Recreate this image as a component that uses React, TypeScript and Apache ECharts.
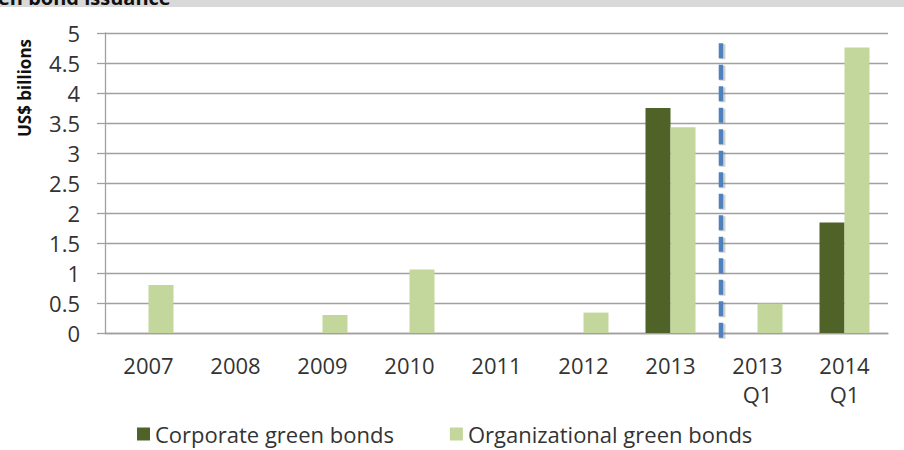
import React, { useEffect, useRef } from "react";
import * as echarts from "echarts";

const categories = ["2007", "2008", "2009", "2010", "2011", "2012", "2013", "2013\nQ1", "2014\nQ1"];
const corporate = [0, 0, 0, 0, 0, 0, 3.75, 0, 1.84];
const organizational = [0.8, 0, 0.3, 1.06, 0, 0.34, 3.43, 0.49, 4.76];
const yTicks = { min: 0, max: 5, interval: 0.5 };
const dividerX = 7.08;
const dividerY = [-0.08, 4.92];
const titleText = "en bond issuance";
const yTitle = "US$ billions";
const seriesNames = ["Corporate green bonds", "Organizational green bonds"];

const FONT = "'Open Sans', 'Noto Sans', sans-serif";

export default function App() {
  const ref = useRef<HTMLDivElement>(null);
  useEffect(() => {
    if (!ref.current) return;
    const chart = echarts.init(ref.current, null, { renderer: "svg" });
    const staticGraphics: any[] = [
      { type: "rect", id: "band", left: 0, top: 0, shape: { x: 0, y: 0, width: 904, height: 7 }, style: { fill: "#d9d9d9" }, z: 1 },
      {
        type: "text",
        id: "title",
        x: -2,
        y: -3,
        z: 2,
        style: {
          text: titleText,
          font: `bold 20px ${FONT}`,
          fill: "#111",
          textAlign: "left",
          textVerticalAlign: "middle",
        },
      },
      {
        type: "text",
        id: "ytitle",
        x: 24,
        y: 88,
        rotation: Math.PI / 2,
        style: {
          text: yTitle,
          font: `bold 17px ${FONT}`,
          fill: "#111",
          textAlign: "center",
          textVerticalAlign: "middle",
        },
      },
    ];
    chart.setOption({
      animation: false,
      backgroundColor: "#ffffff",
      textStyle: { fontFamily: FONT },
      grid: { left: 105, right: 16, top: 33, bottom: 117, containLabel: false },
      legend: {
        left: 132,
        top: 418,
        itemWidth: 13,
        itemHeight: 13,
        itemGap: 56,
        icon: "rect",
        data: seriesNames,
        textStyle: { fontFamily: FONT, fontSize: 22, color: "#333" },
      },
      xAxis: [
        {
          type: "category",
          data: categories,
          axisLine: { lineStyle: { color: "#a0a0a0", width: 1.3 } },
          axisTick: { alignWithLabel: true, length: 6, lineStyle: { color: "#a0a0a0", width: 1.3 } },
          axisLabel: { fontFamily: FONT, fontSize: 22, color: "#333", margin: 17, lineHeight: 29 },
        },
        { type: "value", min: 0, max: 9, show: false },
      ],
      yAxis: {
        type: "value",
        min: yTicks.min,
        max: yTicks.max,
        interval: yTicks.interval,
        axisLine: { show: true, lineStyle: { color: "#a0a0a0", width: 1.3 } },
        axisTick: { show: true, length: 8, lineStyle: { color: "#a0a0a0", width: 1.3 } },
        splitLine: { lineStyle: { color: "#a0a0a0", width: 1.3 } },
        axisLabel: { fontFamily: FONT, fontSize: 22, color: "#333", margin: 25 },
      },
      series: [
        {
          name: seriesNames[0],
          type: "bar",
          data: corporate,
          barWidth: 25,
          barGap: "0%",
          itemStyle: { color: "#4F6228" },
        },
        {
          name: seriesNames[1],
          type: "bar",
          data: organizational,
          barWidth: 25,
          barGap: "0%",
          itemStyle: { color: "#C3D69B" },
        },
      ],
      graphic: staticGraphics,
    });
    let px = Number(chart.convertToPixel({ xAxisIndex: 1 } as any, dividerX));
    if (!isFinite(px)) {
      px = Number(chart.convertToPixel({ xAxisIndex: 0 } as any, dividerX - 0.5));
    }
    const py0 = Number(chart.convertToPixel({ yAxisIndex: 0 } as any, dividerY[0]));
    const py1 = Number(chart.convertToPixel({ yAxisIndex: 0 } as any, dividerY[1]));
    if (isFinite(px) && isFinite(py0) && isFinite(py1)) {
      chart.setOption({
        graphic: [
          ...staticGraphics,
          {
            type: "line",
            id: "dividerShadow",
            z: 9,
            silent: true,
            shape: { x1: px + 1.5, y1: py0 + 1, x2: px + 1.5, y2: py1 + 1 },
            style: {
              stroke: "rgba(120,120,120,0.35)",
              lineWidth: 6,
              lineDash: [15, 6.5],
              lineCap: "butt",
            },
          },
          {
            type: "line",
            id: "divider",
            z: 10,
            silent: true,
            shape: { x1: px, y1: py0, x2: px, y2: py1 },
            style: {
              stroke: "#4F81BD",
              lineWidth: 4.5,
              lineDash: [15, 6.5],
              lineCap: "butt",
            },
          },
        ],
      });
    }
    return () => chart.dispose();
  }, []);
  return (
    <div
      ref={ref}
      style={{ position: "fixed", left: 0, top: 0, width: 904, height: 450, background: "#fff" }}
    />
  );
}
